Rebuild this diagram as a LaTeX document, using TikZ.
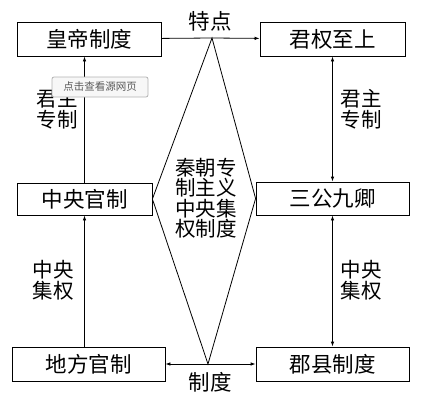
\documentclass[tikz,border=0pt]{standalone}
\usepackage{fontspec}
\setmainfont{Noto Sans CJK SC}
\usetikzlibrary{positioning,arrows.meta}

\begin{document}
\begin{tikzpicture}[x=1pt, y=-1pt, line width=0.8pt,
  box/.style={draw, inner sep=0pt, font=\fontsize{21.5}{21.5}\selectfont},
  lbl/.style={align=center, font=\fontsize{20.5}{21}\selectfont},
  arr/.style={-{Latex[length=5pt,width=3.5pt]}},
  darr/.style={{Latex[length=5pt,width=3.5pt]}-{Latex[length=5pt,width=3.5pt]}}]
\useasboundingbox (0,0) rectangle (428,402);
\node[box, minimum width=144pt, minimum height=34pt] (hd) at (89,39) {皇帝制度};
\node[box, minimum width=145pt, minimum height=34pt] (jq) at (332.5,39) {君权至上};
\node[box, minimum width=135pt, minimum height=32pt] (zy) at (84.5,199) {中央官制};
\node[box, minimum width=153pt, minimum height=33pt] (sg) at (332.5,198.5) {三公九卿};
\node[box, minimum width=153pt, minimum height=34pt] (df) at (88.5,364) {地方官制};
\node[box, minimum width=153pt, minimum height=34pt] (jx) at (332.5,364) {郡县制度};
\coordinate (top) at (212,38);
\coordinate (bot) at (208,364);
% diamond
\draw (zy.east) -- (top) -- (sg.west) -- (bot) -- cycle;
\node[lbl, font=\fontsize{20.5}{20.5}\selectfont] (qc) at (206,198) {秦朝专\\制主义\\中央集\\权制度};
\node[lbl, font=\fontsize{21.5}{21.5}\selectfont] (td) at (210,21) {特点};
\node[lbl, font=\fontsize{21.5}{21.5}\selectfont] (zd) at (210,382) {制度};
% connectors
\draw (hd) -- (top);
\draw[arr] (top) -- (jq);
\draw[arr] (bot) -- (df);
\draw[arr] (bot) -- (jx);
\draw[arr] (df.north -| zy.south) -- (zy.south);
\draw[arr] (zy.north) -- (zy.north |- hd.south);
\draw[darr] (sg) -- (jq);
\draw[darr] (jx) -- (sg);
\node[lbl] (l1) at (57,109) {君主\\专制};
\node[lbl] (l2) at (53,280) {中央\\集权};
\node[lbl] (r1) at (361,109) {君主\\专制};
\node[lbl] (r2) at (361,280) {中央\\集权};
\node[draw=gray!60, fill=gray!6, rounded corners=2pt, inner sep=0pt,
  minimum width=96pt, minimum height=20pt, text=gray!70!black,
  font=\fontsize{10.5}{10.5}\selectfont] (tip) at (100,87) {点击查看源网页};
\end{tikzpicture}
\end{document}
